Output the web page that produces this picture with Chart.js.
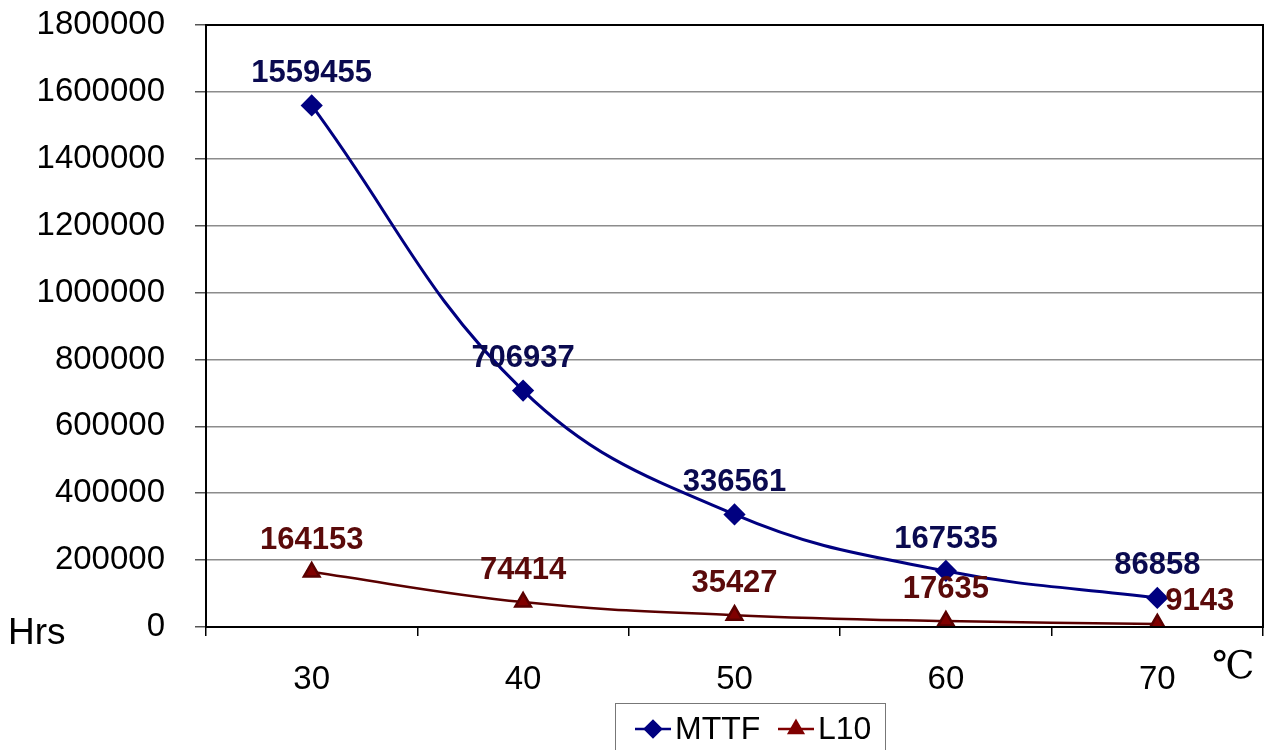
<!DOCTYPE html>
<html>
<head>
<meta charset="utf-8">
<script src="https://cdn.jsdelivr.net/npm/chart.js@4/dist/chart.umd.min.js"></script>
<style>
  body { margin: 0; background: #fff; }
  #wrap { width: 1275px; height: 750px; position: relative; }
</style>
</head>
<body>
<div id="wrap"><canvas id="Chart"></canvas></div>
<script>
// temperature categories (℃)
var temps = ['30', '40', '50', '60', '70']
// hours
var mttf = [1559455, 706937, 336561, 167535, 86858]
var l10 = [164153, 74414, 35427, 17635, 9143]
var yTicks = [0, 200000, 400000, 600000, 800000, 1000000, 1200000, 1400000, 1600000, 1800000]

var navy = '#000080'
var darkRed = '#800000'
var sans = '"Liberation Sans", Arial, sans-serif'

// value labels above each point
var valueLabels = {
	id: 'valueLabels',
	afterDatasetsDraw: function(chart) {
		var ctx = chart.ctx
		ctx.save()
		ctx.font = 'bold 31px ' + sans
		ctx.textBaseline = 'middle'
		chart.data.datasets.forEach(function(ds, i) {
			var meta = chart.getDatasetMeta(i)
			ctx.fillStyle = ds.labelColor
			meta.data.forEach(function(pt, j) {
				var x = pt.x, y = pt.y - 32
				ctx.textAlign = 'center'
				if (ds.lastRight && j == meta.data.length - 1) {
					ctx.textAlign = 'left'
					x = pt.x + 8
					y = pt.y - 22
				}
				ctx.fillText(String(ds.data[j]), x, y)
			})
		})
		ctx.restore()
	}
}

// plot frame, axis titles and boxed legend
var extras = {
	id: 'extras',
	afterDraw: function(chart) {
		var ctx = chart.ctx
		var a = chart.chartArea
		ctx.save()
		ctx.strokeStyle = '#000'
		ctx.lineWidth = 2
		ctx.strokeRect(a.left, a.top, a.right - a.left, a.bottom - a.top)

		ctx.fillStyle = '#000'
		ctx.font = '37px ' + sans
		ctx.textAlign = 'left'
		ctx.textBaseline = 'alphabetic'
		ctx.fillText('Hrs', 8, 644)
		ctx.font = '38px "Liberation Serif", "DejaVu Serif", serif'
		ctx.fillText('℃', 1212, 678)

		// legend
		ctx.lineWidth = 1
		ctx.strokeStyle = '#777'
		ctx.strokeRect(615.5, 703.5, 270, 60)
		var items = [
			{ label: 'MTTF', color: navy, style: 'rectRot', x: 635 },
			{ label: 'L10', color: darkRed, style: 'triangle', x: 778 }
		]
		ctx.font = '32px ' + sans
		ctx.textBaseline = 'middle'
		items.forEach(function(it) {
			var cy = 729
			ctx.strokeStyle = it.color
			ctx.lineWidth = 2.5
			ctx.beginPath()
			ctx.moveTo(it.x, cy)
			ctx.lineTo(it.x + 36, cy)
			ctx.stroke()
			Chart.helpers.drawPoint(ctx, { pointStyle: it.style, radius: 8, borderWidth: 1 }, it.x + 18, cy)
			ctx.fillStyle = it.color
			ctx.fill()
			ctx.fillStyle = '#000'
			ctx.fillText(it.label, it.x + 40, cy + 1)
		})
		ctx.restore()
	}
}

var ctx = document.getElementById('Chart').getContext('2d')
var chart = new Chart(ctx, {
	type: 'line',
	data: {
		labels: temps,
		datasets: [{
			label: 'MTTF',
			data: mttf,
			borderColor: navy,
			backgroundColor: navy,
			borderWidth: 3,
			tension: 0.4,
			pointStyle: 'rectRot',
			pointRadius: 9,
			pointHoverRadius: 9,
			labelColor: '#0a0a50'
		}, {
			label: 'L10',
			data: l10,
			borderColor: '#5a0000',
			backgroundColor: darkRed,
			borderWidth: 2.5,
			tension: 0.4,
			pointStyle: 'triangle',
			pointRadius: 9,
			pointHoverRadius: 9,
			labelColor: '#5a0a0a',
			lastRight: true
		}]
	},
	options: {
		responsive: true,
		maintainAspectRatio: false,
		animation: false,
		layout: { padding: { top: 25, right: 9, left: 0, bottom: 0 } },
		plugins: {
			legend: { display: false },
			tooltip: { enabled: false }
		},
		scales: {
			x: {
				offset: true,
				grid: {
					offset: true,
					drawOnChartArea: false,
					tickLength: 9,
					color: '#000',
					lineWidth: 1.5
				},
				border: { color: '#000', width: 2 },
				ticks: {
					color: '#000',
					padding: 24,
					font: { family: sans, size: 33 }
				},
				afterFit: function(scale) { scale.height = 123 }
			},
			y: {
				min: 0,
				max: 1800000,
				afterBuildTicks: function(scale) {
					scale.ticks = yTicks.map(function(v) { return { value: v } })
				},
				grid: {
					color: '#8c8c8c',
					lineWidth: 1.5,
					tickLength: 11,
					tickColor: '#555'
				},
				border: { color: '#000', width: 2 },
				ticks: {
					color: '#000',
					padding: 30,
					font: { family: sans, size: 33 },
					callback: function(v) { return String(v) }
				},
				afterFit: function(scale) {
					scale.width = 206
					scale.paddingTop = 0
					scale.paddingBottom = 0
				}
			}
		}
	},
	plugins: [valueLabels, extras]
})
</script>
</body>
</html>
